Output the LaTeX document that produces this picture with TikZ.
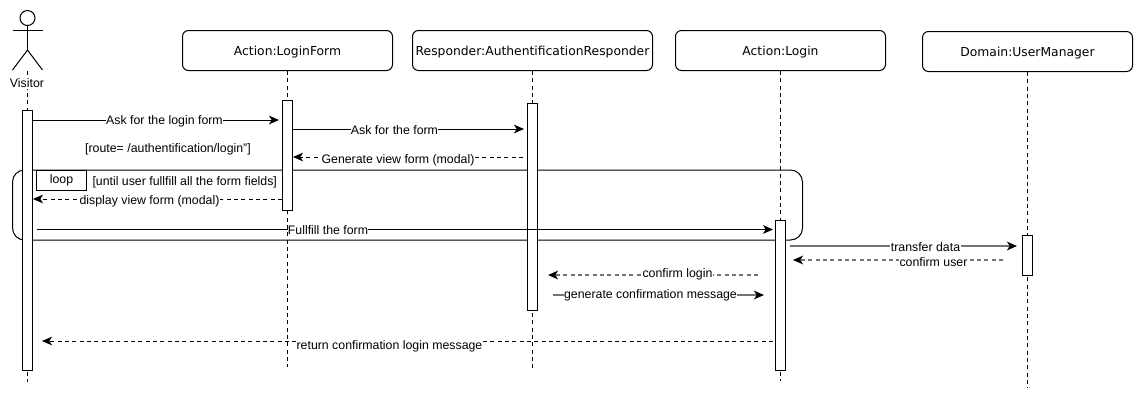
\documentclass[tikz,border=0pt]{standalone}
\usepackage{fontspec}
\setmainfont{Liberation Sans}
\newfontfamily\boxfont{DejaVu Sans}
\usetikzlibrary{arrows.meta}
\tikzset{
 x=0.75pt,y=-0.75pt,
 every path/.style={line width=0.75pt},
 obj/.style={draw,rounded corners=4.5pt,minimum width=157.5pt,minimum height=30pt,inner sep=0pt,font=\boxfont\fontsize{9.25}{12}\selectfont,text height=7.7pt,text depth=0pt,anchor=center},
 act/.style={draw,fill=white,minimum width=7.5pt,inner sep=0pt,anchor=north},
 life/.style={dash pattern=on 3pt off 2.5pt},
 msg/.style={-{Stealth[length=7.5pt,width=6.5pt,inset=2pt,color=black]}},
 ret/.style={msg,dash pattern=on 3pt off 2.5pt},
 grayl/.style={draw=black!55,line width=1.1pt},
 lab/.style={font=\fontsize{9.25}{11}\selectfont,inner sep=0.3pt,fill=white,yshift=-0.75pt},
 txt/.style={font=\fontsize{9.25}{11}\selectfont,inner sep=0pt},
}
\begin{document}
\begin{tikzpicture}
\useasboundingbox (0,0) rectangle (1143,401);
% actor
\node[draw,circle,minimum size=11.25pt,inner sep=0pt] (head) at (27.5,18) {};
\coordinate (hip) at (27.5,50);
\coordinate (armL) at (12.5,30);
\coordinate (armR) at (42.5,30);
\coordinate (visE) at (27.5,382);
\coordinate (visT) at (27.5,71);
\draw (head.south) -- (hip);
\draw (armL) -- (armR);
\draw (12.5,70) -- (hip) -- (42.5,70);
\draw[life] (visT) -- (visE);
\node[txt,fill=white,inner ysep=1pt] (visitor) at (27,83) {Visitor};
% objects
\node[obj] (form) at (287.5,50.5) {Action:LoginForm};
\node[obj,minimum width=180pt] (resp) at (532.5,50.5) {Responder:AuthentificationResponder};
\node[obj] (login) at (780.5,50.5) {Action:Login};
\node[obj] (user) at (1027.5,51.5) {Domain:UserManager};
% lifeline ends
\coordinate (formE) at (287.5,367);
\coordinate (respE) at (532.5,371);
\coordinate (loginE) at (780.5,381);
\coordinate (userE) at (1027.5,388);
% lifelines
\draw[life] (form) -- (formE);
\draw[life] (resp) -- (respE);
\draw[life] (login) -- (loginE);
\draw[life] (user) -- (userE);
% loop frame
\node[draw,rounded corners=9pt,minimum width=592.5pt,minimum height=52.5pt,inner sep=0pt] (frame) at (407.5,205) {};
\node[draw,minimum width=37.5pt,minimum height=15pt,inner sep=0pt,txt,fill=white] (tag) at (61.5,180) {loop};
\node[txt,anchor=west] (guard) at (92,182.5) {[until user fullfill all the form fields]};
\node[txt] (route) at (168,149.5) {[route= /authentification/login"]};
% activations
\node[act,minimum height=195pt] (a1) at (27.5,110) {};
\node[act,minimum height=82.5pt] (a2) at (287.5,100) {};
\node[act,minimum height=155.25pt] (a3) at (532.5,103) {};
\node[act,minimum height=112.5pt] (a4) at (780.5,220) {};
\node[act,minimum height=30pt] (a5) at (1027.5,235) {};
% message ends
\coordinate (m1a) at (33,120); \coordinate (m1b) at (279,120);
\coordinate (m2a) at (293,129); \coordinate (m2b) at (524,129);
\coordinate (m3a) at (523,157); \coordinate (m3b) at (293,157);
\coordinate (m4a) at (282,199); \coordinate (m4b) at (33,199);
\coordinate (m5a) at (37,229.5); \coordinate (m5b) at (773,229.5);
\coordinate (m6a) at (790,246); \coordinate (m6b) at (1017,246);
\coordinate (m7a) at (1003,260); \coordinate (m7b) at (793,260);
\coordinate (m8a) at (758,275); \coordinate (m8b) at (548,275);
\coordinate (m9a) at (553,295); \coordinate (m9b) at (764,295);
\coordinate (m10a) at (773,341); \coordinate (m10b) at (42,341);
% messages
\draw[msg] (m1a) -- (m1b);
\node[lab] at (164.5,120.5) {Ask for the login form};
\draw[msg] (m2a) -- (m2b);
\node[lab] at (394.5,129.5) {Ask for the form};
\draw[ret] (m3a) -- (m3b);
\node[lab] at (398,159.5) {Generate view form (modal)};
\draw[ret] (m4a) -- (m4b);
\node[lab] at (149.5,200.5) {display view form (modal)};
\draw[msg] (m5a) -- (m5b);
\node[lab] at (328,229.5) {Fullfill the form};
\draw[msg,grayl] (m6a) -- (m6b);
\node[lab] at (925.5,246.5) {transfer data};
\draw[ret,grayl] (m7a) -- (m7b);
\node[lab] at (933.5,261) {confirm user};
\draw[ret,grayl] (m8a) -- (m8b);
\node[lab] at (677.5,273) {confirm login};
\draw[msg,grayl] (m9a) -- (m9b);
\node[lab] at (650.5,294) {generate confirmation message};
\draw[ret] (m10a) -- (m10b);
\node[lab] at (389.5,345) {return confirmation login message};
\end{tikzpicture}
\end{document}
